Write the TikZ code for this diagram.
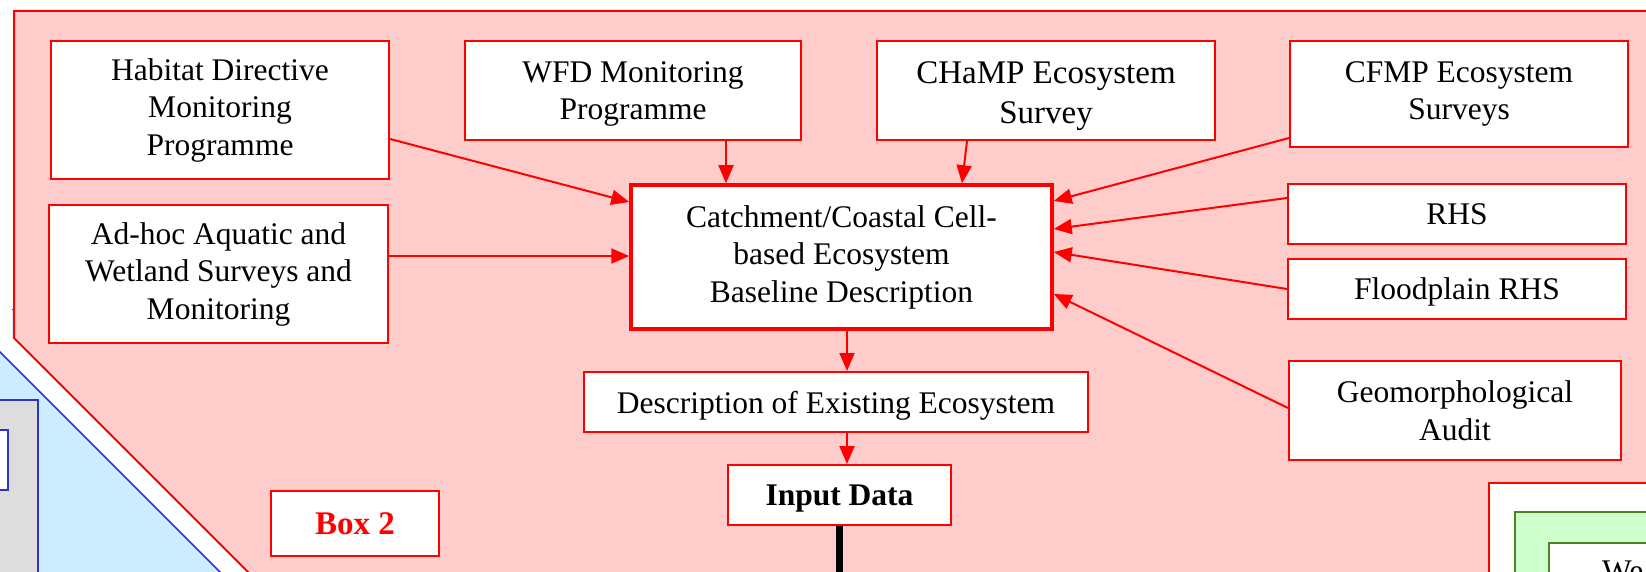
\documentclass[tikz,border=0pt]{standalone}
\usepackage{fontspec}
\setmainfont{Liberation Serif}
\usetikzlibrary{arrows.meta}
\definecolor{pinkbg}{RGB}{255,204,204}
\definecolor{pureRed}{RGB}{255,0,0}
\definecolor{skyfill}{RGB}{204,236,255}
\definecolor{bluerule}{RGB}{51,51,204}
\definecolor{greyfill}{RGB}{221,221,221}
\definecolor{mintfill}{RGB}{204,255,204}
\definecolor{leafgreen}{RGB}{80,128,32}

\begin{document}
\begin{tikzpicture}[x=1pt,y=-1pt,
  box/.style={draw=pureRed, line width=2pt, fill=white, inner sep=0pt,
    align=center, font=\fontsize{31.5}{37.5}\selectfont},
  feed/.style={draw=pureRed, line width=2pt,
    -{Triangle[length=18pt,width=15pt]}},
]
\useasboundingbox (0,0) rectangle (1646,572);
\clip (0,0) rectangle (1646,572);

% neighbouring panel on the left (blue)
\fill[skyfill] (-5,347) -- (230,582) -- (-5,582) -- cycle;
\draw[bluerule, line width=1.5pt] (-5,347) -- (230,582);
\draw[bluerule, line width=1.5pt, fill=greyfill] (-10,400) rectangle (38,590);
\draw[bluerule, line width=1.5pt, fill=white] (-10,430) rectangle (8,490);
\fill[skyfill] (12,309) rectangle (14,338);
\draw[bluerule, line width=1pt] (12,309) -- (14,309);

% Box 2 panel (pink)
\draw[pureRed, line width=2pt, fill=pinkbg]
  (14,338) -- (14,11) -- (1660,11) -- (1660,590) -- (266,590) -- cycle;

% neighbouring panel on the right (green)
\draw[pureRed, line width=2pt, fill=white] (1489,483) rectangle (1670,590);
\draw[leafgreen, line width=2pt, fill=mintfill] (1515,512) rectangle (1670,590);
\draw[leafgreen, line width=2pt, fill=white] (1549,543) rectangle (1670,590);
\node[anchor=base west, inner sep=0pt, font=\fontsize{31.5}{37.5}\selectfont]
  (wetext) at (1602,581) {We};

% source boxes
\node[box, minimum width=338pt, minimum height=138pt] (hab) at (220,110)
  {Habitat Directive\\Monitoring\\Programme};
\node[box, minimum width=339pt, minimum height=138pt] (adhoc) at (218.5,274)
  {Ad-hoc Aquatic and\\Wetland Surveys and\\Monitoring};
\node[box, text depth=0pt, minimum width=336pt, minimum height=99pt] (wfd)
  at (633,90.5) {WFD Monitoring\\Programme};
\node[box, minimum width=338pt, minimum height=99pt] (champ) at (1046,90.5) {};
\node[align=center, inner sep=0pt, font=\fontsize{33}{40}\selectfont]
  (champtext) at ([yshift=-6pt]champ.center) {CHaMP Ecosystem\\Survey};
\node[box, minimum width=338pt, minimum height=106pt] (cfmp) at (1459,94)
  {CFMP Ecosystem\\Surveys};
\node[box, minimum width=338pt, minimum height=60pt] (rhs) at (1457,214) {RHS};
\node[box, text depth=0pt, minimum width=338pt, minimum height=60pt] (flood)
  at (1457,289) {Floodplain RHS};
\node[box, minimum width=332pt, minimum height=99pt] (geo) at (1455,410.5)
  {Geomorphological\\Audit};

% central chain
\node[box, line width=3.5pt, minimum width=421pt, minimum height=144pt]
  (central) at (841.5,257)
  {Catchment/Coastal Cell-\\based Ecosystem\\Baseline Description};
\node[box, text depth=0pt, minimum width=504pt, minimum height=60pt] (desc)
  at (836,402) {Description of Existing Ecosystem};
\node[box, text depth=0pt, minimum width=223pt, minimum height=60pt,
  font=\fontsize{31.5}{37.5}\selectfont\bfseries] (input) at (839.5,495)
  {Input Data};
\node[box, minimum width=168pt, minimum height=65pt, text=pureRed,
  font=\fontsize{33}{40}\selectfont\bfseries] (boxtwo) at (355,523.5)
  {Box 2};
\coordinate (downend) at (839,590);

% connectors into the baseline description
\draw[feed] ([yshift=-29pt]hab.east) -- ([yshift=55pt]central.west);
\draw[feed] ([yshift=18pt]adhoc.east) -- ([yshift=1pt]central.west);
\draw[feed] ([xshift=93pt]wfd.south) -- ([xshift=-115.5pt]central.north);
\draw[feed] ([xshift=-79pt]champ.south) -- ([xshift=120.5pt]central.north);
\draw[feed] ([yshift=-44pt]cfmp.west) -- ([yshift=56pt]central.east);
\draw[feed] ([yshift=16pt]rhs.west) -- ([yshift=28pt]central.east);
\draw[feed] (flood.west) -- ([yshift=5pt]central.east);
\draw[feed] ([yshift=2.5pt]geo.west) -- ([yshift=-37pt]central.east);

% chain downwards
\draw[feed] ([xshift=5.5pt]central.south) -- ([xshift=11pt]desc.north);
\draw[feed] ([xshift=11pt]desc.south) -- ([xshift=7.5pt]input.north);
\draw[black, line width=7pt] ([xshift=-0.5pt]input.south) -- (downend);
\end{tikzpicture}
\end{document}
